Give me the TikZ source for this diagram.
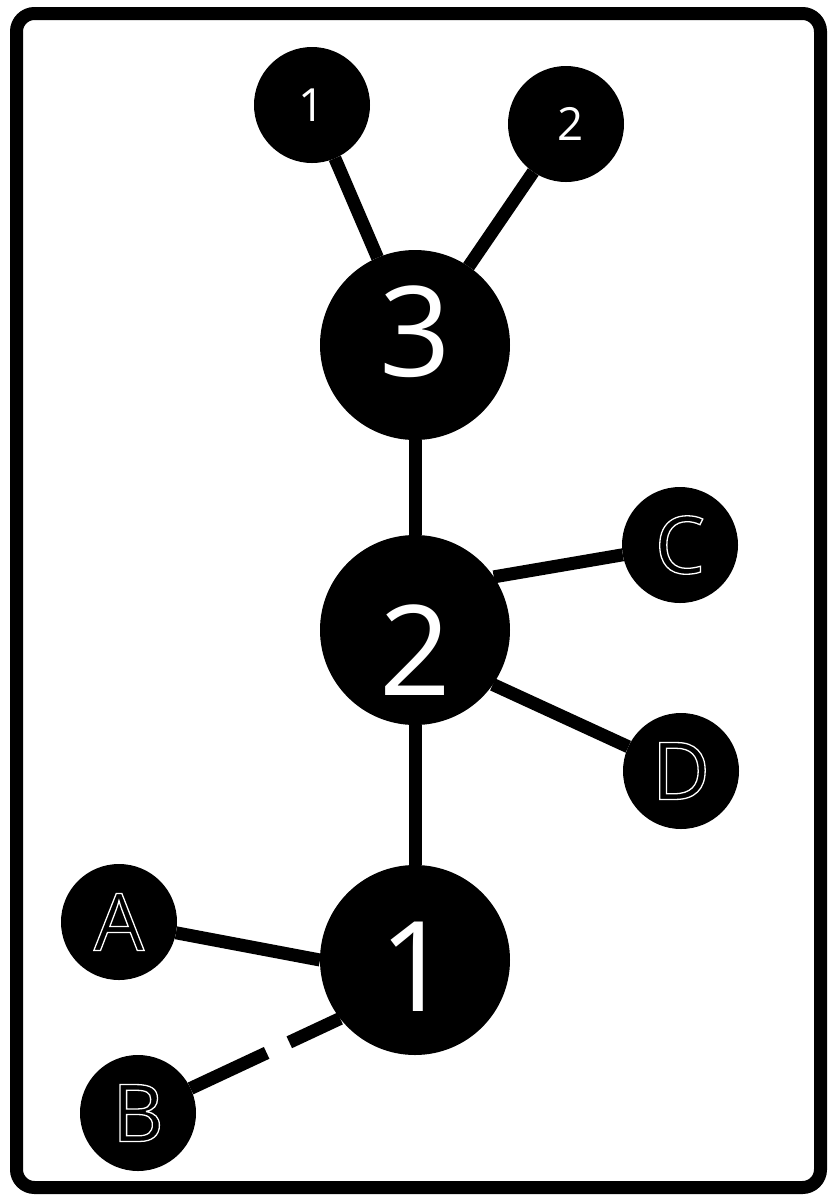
\documentclass[tikz,border=0pt]{standalone}
\usepackage{fontspec}
\setmainfont{Open Sans}
% white outline only, black inside
\newcommand{\hollow}[1]{\special{pdf:literal direct 1 Tr 1 1 1 RG 1.1 w}#1\special{pdf:literal direct 0 Tr}}

\begin{document}
\begin{tikzpicture}[x=0.3mm,y=-0.3mm,line width=3.9mm,
  big node/.style={circle,fill=black,inner sep=0pt,outer sep=0pt,minimum size=57mm},
  small node/.style={circle,fill=black,inner sep=0pt,outer sep=0pt,minimum size=34.8mm,text=white},
  big num/.style={text=white,font=\fontsize{107}{107}\selectfont},
  small num/.style={font=\fontsize{39}{39}\selectfont},
  letter/.style={font=\fontsize{68}{68}\selectfont}]
  \useasboundingbox (0,0) rectangle (837,1201);
  \draw[rounded corners=5.4mm] (16.5,13.5) rectangle (820.5,1187.5);
  \node[big node] (n3) at (415,345) {};
  \node[big node] (n2) at (415,630) {};
  \node[big node] (n1) at (415,960) {};
  \node[small node,small num] (t1) at (312,105) {1};
  \node[small node,small num] (t2) at (566,124) {\hspace{3mm}\raisebox{-1.2mm}{2}};
  \node[small node,letter] (C) at (680,545) {\hollow{C}};
  \node[small node,letter] (D) at (681,771) {\hollow{D}};
  \node[small node,letter] (A) at (119,922) {\hollow{A}};
  \node[small node,letter] (B) at (138,1113) {\hollow{B}};
  \node[big num] (l3) at ([yshift=3.9mm]n3.center) {3};
  \node[big num] (l2) at ([yshift=-6mm]n2.center) {2};
  \node[big num] (l1) at ([yshift=-2.1mm]n1.center) {1};
  \path
    (t1) edge (n3)
    (t2) edge (n3)
    (n3) edge (n2)
    (n2.34) edge (C)
    (n2.-35) edge (D)
    (n2) edge (n1)
    (A) edge (n1.west)
    (B) edge[dash pattern=on 25.2mm off 7.5mm on 60mm] (n1.218);
\end{tikzpicture}
\end{document}
